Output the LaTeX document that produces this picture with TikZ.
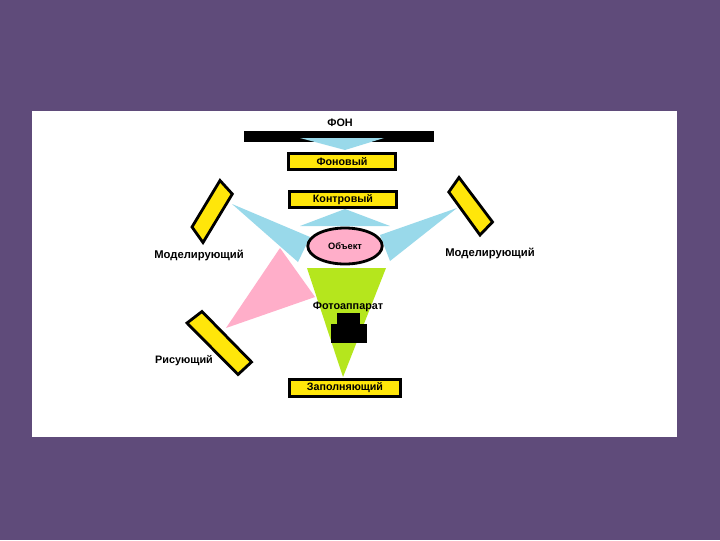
\documentclass[tikz,border=0pt]{standalone}
\usepackage{fontspec}
\setmainfont{Liberation Sans}
\usetikzlibrary{shapes.geometric, positioning}
\definecolor{slidepurple}{RGB}{95, 75, 122}
\definecolor{lampyellow}{RGB}{255, 230, 10}
\definecolor{beamblue}{RGB}{153, 217, 234}
\definecolor{beampink}{RGB}{255, 174, 201}
\definecolor{beamgreen}{RGB}{181, 230, 29}

\begin{document}
\begin{tikzpicture}[
    x=0.025cm, y=-0.025cm,
    lamp/.style={draw=black, line width=2pt, fill=lampyellow, minimum height=0.41cm,
                 inner sep=0pt, font=\bfseries\fontsize{7.6}{9}\selectfont},
    tilted/.style={draw=black, line width=2pt, fill=lampyellow, line join=miter},
    caption/.style={inner sep=0pt, font=\bfseries\fontsize{7.7}{9}\selectfont},
    widecaption/.style={caption, font=\bfseries\fontsize{8}{9}\selectfont}
]
    \fill[slidepurple] (0,0) rectangle (720,540);
    \fill[white] (32,111) rectangle (677,437);
    \useasboundingbox (0,0) rectangle (720,540);

    % beams
    \fill[beamblue] (232,204) -- (310,237) -- (298,262) -- cycle;
    \fill[beamblue] (457,208) -- (380,235) -- (390,261) -- cycle;
    \fill[beamblue] (345,209) -- (390,226) -- (300,226) -- cycle;
    \fill[beampink] (226,328) -- (280,248) -- (315,297) -- cycle;
    \fill[beamgreen] (307,268) -- (386,268) -- (343,377) -- cycle;

    % background
    \node[fill=black, minimum width=4.75cm, minimum height=0.26cm, inner sep=0pt] (bar) at (339,136.5) {};
    \fill[beamblue] (300,138) -- (384,138) -- (345,150) -- cycle;
    \node[caption] (fon) at (340,123) {ФОН};

    % lamps
    \node[lamp, minimum width=2.68cm] (back) at (342,161.5) {Фоновый};
    \node[lamp, minimum width=2.68cm] (rim) at (343,199.5) {Контровый};
    \node[lamp, minimum width=2.78cm] (front) at (345,388) {Заполняющий};
    \draw[tilted] (220,180.5) -- (232.3,194) -- (203,242.5) -- (192,227) -- cycle;
    \draw[tilted] (459,177.5) -- (448.8,192) -- (480,235) -- (492.5,222) -- cycle;
    \draw[tilted] (202,311.5) -- (187,323) -- (238,374.5) -- (251.5,362) -- cycle;

    \node[widecaption] (leftlabel) at (199,255) {Моделирующий};
    \node[widecaption] (rightlabel) at (490,253.5) {Моделирующий};
    \node[caption] (keylabel) at (184,361) {Рисующий};

    % subject and camera
    \node[ellipse, draw=black, line width=2pt, fill=beampink, minimum width=1.86cm, minimum height=0.9cm,
          inner sep=0pt, font=\bfseries\fontsize{6.6}{8}\selectfont] (subject) at (345,246) {Объект};
    \node[caption] (camera) at (348,307) {Фотоаппарат};
    \node[fill=black, minimum width=0.57cm, minimum height=0.28cm, inner sep=0pt] (top) at (348.5,319) {};
    \node[fill=black, minimum width=0.9cm, minimum height=0.48cm, inner sep=0pt] (body) at (349,333.5) {};
\end{tikzpicture}
\end{document}
